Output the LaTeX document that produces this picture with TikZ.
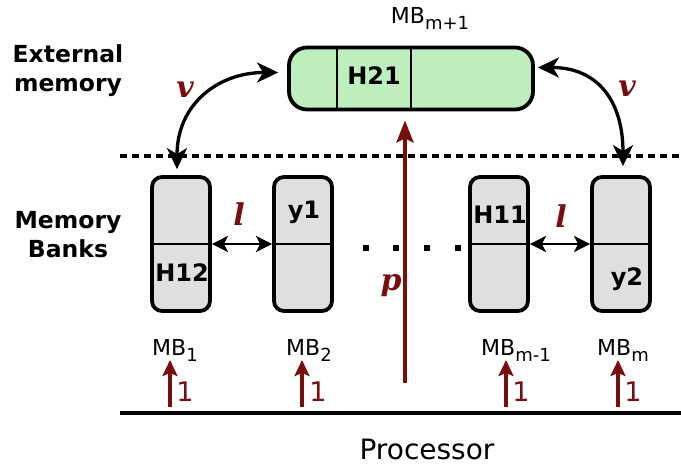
\documentclass[tikz,border=0pt]{standalone}
\usepackage{fontspec}
\setmainfont{DejaVu Sans}
\newfontfamily\lblfont{DejaVu Serif}
\usetikzlibrary{arrows.meta}
\definecolor{dred}{RGB}{120,14,14}
\definecolor{gfill}{RGB}{190,238,190}
\definecolor{bfill}{RGB}{224,223,223}
\newcommand\mbsub[1]{\raisebox{-6pt}{\fontsize{18}{18}\selectfont #1}}
\begin{document}
\begin{tikzpicture}[x=1pt,y=-1pt,
  bank/.style={draw=black, line width=3.8pt, fill=bfill, rounded corners=10pt,
    minimum width=58pt, minimum height=134pt, inner sep=0pt},
  extbox/.style={draw=black, line width=3.8pt, fill=gfill, rounded corners=18pt,
    minimum width=244pt, minimum height=62pt, inner sep=0pt},
  divider/.style={line width=1.4pt},
  celltxt/.style={font=\fontsize{24}{26}\selectfont\bfseries, inner sep=0pt},
  sidetxt/.style={font=\fontsize{23.5}{29}\selectfont\bfseries, align=center, inner sep=0pt},
  mbtxt/.style={font=\fontsize{22}{24}\selectfont, inner sep=0pt},
  vartxt/.style={font=\fontsize{30}{30}\selectfont\lblfont\bfseries\itshape, text=dred, inner sep=0pt},
  onetxt/.style={font=\fontsize{27}{28}\selectfont, text=dred, inner sep=0pt},
  vlink/.style={line width=3.3pt, {Stealth[length=21pt,width=20pt,inset=6pt]}-{Stealth[length=21pt,width=20pt,inset=6pt]}},
  llink/.style={line width=2.8pt, {Stealth[length=16pt,width=16pt,inset=4pt]}-{Stealth[length=16pt,width=16pt,inset=4pt]}},
  parrow/.style={draw=dred, line width=3.6pt, -{Stealth[length=22pt,width=17pt,inset=4pt]}},
  onearrow/.style={draw=dred, line width=3.6pt, -{Stealth[length=16pt,width=15pt,inset=3pt]}},
  dotsq/.style={fill=black, minimum size=6pt, inner sep=0pt},
]
\useasboundingbox (0,0) rectangle (681,465);

% external memory
\node[extbox] (ext) at (411,78.5) {};
\draw[divider] (337,47.5) -- (337,109.5);
\draw[divider] (ext.north) -- (ext.south);
\node[celltxt] (h21) at (374,76) {H21};
\node[mbtxt] (mbtop) at (430,18) {MB\mbsub{m+1}};
\node[sidetxt] (extlbl) at (68,71) {External\\memory};

% dashed separator
\coordinate (dl) at (120,156);
\coordinate (dr) at (681,156);
\draw[line width=3.2pt, dash pattern=on 7pt off 5pt] (dl) -- (dr);

% banks
\node[bank] (b1) at (181,244) {};
\node[bank] (b2) at (303,244) {};
\node[bank] (b3) at (499,244) {};
\node[bank] (b4) at (621,244) {};
\foreach \b in {b1,b2,b3,b4} \draw[divider] (\b.west) -- (\b.east);
\node[celltxt] (h12) at (182,273) {H12};
\node[celltxt] (y1) at (304,212) {y1};
\node[celltxt] (h11) at (500,215) {H11};
\node[celltxt] (y2) at (627,279) {y2};
\node[sidetxt] (memlbl) at (68,235) {Memory\\Banks};

% dots
\node[dotsq] (d1) at (366,248) {};
\node[dotsq] (d2) at (396,248) {};
\node[dotsq] (d3) at (427,248) {};
\node[dotsq] (d4) at (458,248) {};

% l links
\draw[llink] (b1.east) -- (b2.west);
\draw[llink] (b3.east) -- (b4.west);
\node[vartxt] (l1) at (239,214) {l};
\node[vartxt] (l2) at (561,216) {l};

% v links
\draw[vlink] ([shift={(-4,-6)}]b1.north) .. controls +(0,-65) and +(-60,0) .. ([shift={(-9,-6)}]ext.west);
\draw[vlink] ([shift={(3,-11)}]ext.east) .. controls +(60,0) and +(0,-65) .. ([shift={(2,-9)}]b4.north);
\node[vartxt] (v1) at (185,90) {v};
\node[vartxt] (v2) at (627,89) {v};

% p arrow
\coordinate (pbot) at (405,383);
\draw[parrow] (pbot) -- ([shift={(-6,9)}]ext.south);
\node[vartxt] (plbl) at (391,286) {p};

% MB labels
\node[mbtxt] (mb1) at (175,350) {MB\mbsub{1}};
\node[mbtxt] (mb2) at (309,350) {MB\mbsub{2}};
\node[mbtxt] (mb3) at (516,350) {MB\mbsub{m-1}};
\node[mbtxt] (mb4) at (623,350) {MB\mbsub{m}};

% processor line
\coordinate (pl) at (120,413);
\coordinate (pr) at (681,413);
\draw[line width=3.6pt] (pl) -- (pr);
\node[font=\fontsize{28}{29}\selectfont, inner sep=0pt] (proc) at (427,449) {Processor};

% unit arrows
\coordinate (a1) at (170,407);
\coordinate (a2) at (302,407);
\coordinate (a3) at (506,407);
\coordinate (a4) at (618,407);
\foreach \a in {a1,a2,a3,a4} \draw[onearrow] (\a) -- ++(0,-47);
\node[onetxt] (o1) at (185,392) {1};
\node[onetxt] (o2) at (318,392) {1};
\node[onetxt] (o3) at (521,392) {1};
\node[onetxt] (o4) at (633,392) {1};
\end{tikzpicture}
\end{document}
